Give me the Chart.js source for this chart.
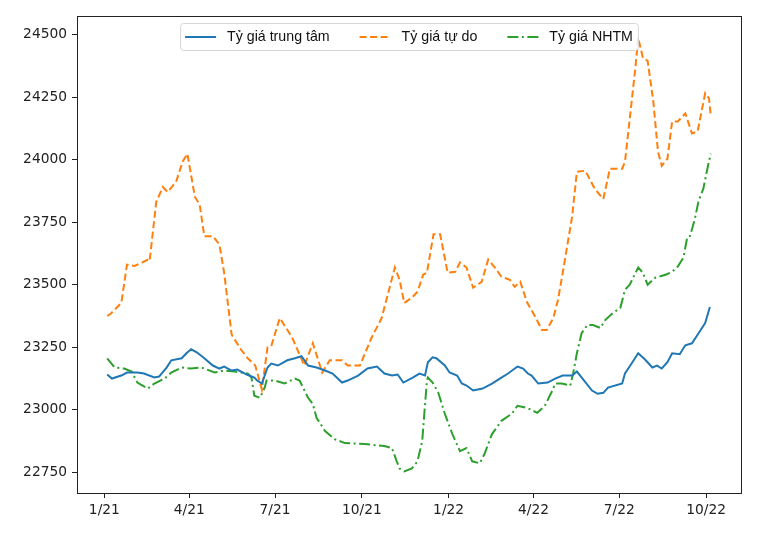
<!DOCTYPE html>
<html lang="vi">

<head>
    <meta charset="UTF-8">
    <title>Tỷ giá USD/VND</title>
    <script src="https://cdn.jsdelivr.net/npm/chart.js"></script>
    <style>
        body { margin: 0; background: #fff; }
    </style>
</head>

<body>
    <canvas id="chartTyGia" width="776" height="542"></canvas>

    <script>
        // x = so ngay tinh tu 1/1/2021
        const seriesNames = ['Tỷ giá trung tâm', 'Tỷ giá tự do', 'Tỷ giá NHTM'];

        const ngayTrungTam = [3, 8, 18, 24, 35, 42, 53, 58, 66, 71, 82, 87, 92, 98, 106, 115, 122, 127, 135, 141,
            151, 159, 162, 167, 173, 177, 184, 194, 202, 209, 216, 225, 234, 242, 252, 258, 269, 279, 289, 297,
            305, 311, 317, 327, 334, 340, 343, 348, 352, 361, 366, 374, 379, 384, 391, 401, 411, 421, 428, 438,
            444, 449, 453, 460, 470, 478, 486, 496, 501, 507, 517, 523, 529, 534, 549, 552, 559, 566, 573, 581,
            586, 591, 597, 602, 610, 616, 623, 630, 637, 642];
        const tyGiaTrungTam = [23141, 23125, 23137, 23149, 23149, 23145, 23129, 23133, 23169, 23198, 23206, 23226, 23242, 23230, 23206, 23177, 23165, 23173, 23157, 23161,
            23141, 23129, 23117, 23105, 23169, 23185, 23177, 23198, 23206, 23214, 23177, 23169, 23157, 23145, 23109, 23117, 23137, 23165, 23173, 23145,
            23137, 23141, 23109, 23129, 23145, 23137, 23190, 23210, 23206, 23177, 23149, 23137, 23105, 23097, 23077, 23085, 23105, 23129, 23145, 23173,
            23165, 23145, 23137, 23105, 23109, 23125, 23137, 23137, 23153, 23125, 23077, 23064, 23068, 23089, 23105, 23145, 23185, 23226, 23202, 23169,
            23177, 23165, 23190, 23226, 23222, 23258, 23266, 23306, 23347, 23411];

        const ngayTuDo = [3, 7, 18, 24, 32, 46, 48, 55, 62, 67, 76, 83, 88, 96, 101, 106, 115, 122, 127, 135,
            145, 152, 160, 167, 173, 177, 186, 199, 205, 212, 221, 231, 239, 252, 258, 271, 283, 294, 308, 313,
            318, 326, 332, 338, 342, 349, 356, 364, 372, 377, 384, 391, 400, 407, 414, 421, 430, 435, 441, 448,
            457, 464, 469, 476, 481, 486, 496, 501, 510, 520, 529, 536, 549, 552, 563, 566, 571, 576, 582, 587,
            591, 597, 602, 608, 616, 623, 629, 637, 641, 643];
        const tyGiaTuDo = [23375, 23385, 23427, 23580, 23575, 23600, 23595, 23831, 23891, 23871, 23911, 23992, 24024, 23851, 23822, 23694, 23694, 23661, 23548, 23300,
            23240, 23206, 23177, 23081, 23250, 23255, 23367, 23290, 23238, 23177, 23266, 23149, 23198, 23198, 23177, 23177, 23286, 23367, 23569, 23520,
            23427, 23448, 23472, 23540, 23548, 23702, 23702, 23548, 23552, 23589, 23569, 23488, 23512, 23601, 23569, 23532, 23520, 23492, 23512, 23431,
            23371, 23319, 23319, 23367, 23440, 23548, 23774, 23952, 23956, 23883, 23843, 23964, 23964, 23992, 24367, 24488, 24407, 24395, 24234, 24032,
            23976, 24004, 24153, 24153, 24185, 24105, 24113, 24266, 24246, 24177];

        const ngayNHTM = [3, 11, 21, 29, 35, 46, 53, 64, 71, 82, 92, 103, 117, 127, 138, 152, 156, 159, 165, 170,
            172, 181, 191, 202, 207, 216, 221, 225, 234, 244, 255, 276, 297, 305, 310, 313, 318, 326, 332, 337,
            342, 343, 348, 354, 361, 369, 377, 384, 390, 398, 403, 411, 421, 432, 438, 448, 459, 467, 475, 478,
            485, 494, 497, 501, 506, 512, 518, 526, 531, 539, 547, 552, 557, 566, 571, 576, 584, 595, 602, 608,
            614, 618, 621, 626, 630, 635, 640, 643];
        const tyGiaNHTM = [23206, 23169, 23165, 23153, 23109, 23085, 23105, 23125, 23149, 23169, 23165, 23169, 23149, 23157, 23153, 23145, 23129, 23056, 23048, 23089,
            23117, 23117, 23105, 23125, 23117, 23048, 23024, 22968, 22915, 22883, 22867, 22863, 22855, 22847, 22794, 22765, 22754, 22766, 22794, 22875,
            23117, 23129, 23109, 23069, 22984, 22903, 22835, 22847, 22794, 22786, 22823, 22903, 22956, 22984, 23016, 23008, 22988, 23016, 23077, 23105,
            23105, 23097, 23145, 23226, 23306, 23339, 23339, 23327, 23359, 23387, 23407, 23480, 23500, 23569, 23548, 23500, 23528, 23540, 23552, 23573,
            23609, 23690, 23695, 23762, 23835, 23883, 23976, 24024];

        const xTickDays = [0, 90, 181, 273, 365, 455, 546, 638];
        const xTickLabels = ['1/21', '4/21', '7/21', '10/21', '1/22', '4/22', '7/22', '10/22'];
        const yTicks = [22750, 23000, 23250, 23500, 23750, 24000, 24250, 24500];

        function toPoints(days, values) {
            return days.map((d, i) => ({ x: d, y: values[i] }));
        }

        // matplotlib style margins (5%)
        const allDays = ngayTrungTam.concat(ngayTuDo, ngayNHTM);
        const allVals = tyGiaTrungTam.concat(tyGiaTuDo, tyGiaNHTM);
        const xMin = Math.min(...allDays), xMax = Math.max(...allDays);
        const yMin = Math.min(...allVals), yMax = Math.max(...allVals);
        const xPad = (xMax - xMin) * 0.05, yPad = (yMax - yMin) * 0.05;

        const khungPlugin = {
            id: 'khung',
            afterDatasetsDraw(chart) {
                const a = chart.chartArea;
                const ctx = chart.ctx;
                ctx.save();
                ctx.strokeStyle = '#222';
                ctx.lineWidth = 1;
                ctx.strokeRect(Math.round(a.left) + 0.5, Math.round(a.top) + 0.5,
                    Math.round(a.right - a.left), Math.round(a.bottom - a.top));
                ctx.restore();
            }
        };

        const chuGiaiPlugin = {
            id: 'chuGiai',
            afterDraw(chart) {
                const ctx = chart.ctx;
                const a = chart.chartArea;
                const ds = chart.data.datasets;
                ctx.save();
                ctx.font = '14.2px "Liberation Sans", Arial, sans-serif';
                const handle = 31, gap = 11, colGap = 30, pad = 5;
                const widths = ds.map(d => ctx.measureText(d.label).width);
                let total = pad * 2 + widths.reduce((s, w) => s + handle + gap + w, 0) + colGap * (ds.length - 1);
                const left = (a.left + a.right) / 2 - total / 2;
                const top = a.top + 7, h = 27;

                ctx.beginPath();
                ctx.roundRect(left + 0.5, top + 0.5, total, h, 3);
                ctx.fillStyle = 'rgba(255,255,255,0.8)';
                ctx.fill();
                ctx.strokeStyle = '#d6d6d6';
                ctx.lineWidth = 1;
                ctx.stroke();

                let x = left + pad;
                const yMid = top + h / 2 + 0.5;
                ds.forEach((d, i) => {
                    ctx.beginPath();
                    ctx.setLineDash(d.borderDash || []);
                    ctx.strokeStyle = d.borderColor;
                    ctx.lineWidth = d.borderWidth;
                    ctx.moveTo(x, yMid);
                    ctx.lineTo(x + handle, yMid);
                    ctx.stroke();
                    ctx.setLineDash([]);
                    ctx.fillStyle = '#111';
                    ctx.textBaseline = 'middle';
                    ctx.fillText(d.label, x + handle + gap, yMid);
                    x += handle + gap + widths[i] + colGap;
                });
                ctx.restore();
            }
        };

        Chart.defaults.font.family = '"DejaVu Sans", sans-serif';
        Chart.defaults.font.size = 13.8;
        Chart.defaults.color = '#222';

        const ctx = document.getElementById('chartTyGia').getContext('2d');
        new Chart(ctx, {
            type: 'line',
            data: {
                datasets: [{
                    label: seriesNames[0],
                    data: toPoints(ngayTrungTam, tyGiaTrungTam),
                    borderColor: '#1f77b4',
                    borderWidth: 2
                }, {
                    label: seriesNames[1],
                    data: toPoints(ngayTuDo, tyGiaTuDo),
                    borderColor: '#ff7f0e',
                    borderWidth: 2,
                    borderDash: [7, 3.5]
                }, {
                    label: seriesNames[2],
                    data: toPoints(ngayNHTM, tyGiaNHTM),
                    borderColor: '#2ca02c',
                    borderWidth: 2,
                    borderDash: [11, 3.5, 2, 3.5]
                }]
            },
            options: {
                responsive: false,
                animation: false,
                elements: { point: { radius: 0 }, line: { tension: 0, fill: false } },
                layout: { padding: { top: 16, right: 35, bottom: 0, left: 0 } },
                plugins: {
                    legend: { display: false },
                    tooltip: { enabled: false }
                },
                scales: {
                    x: {
                        type: 'linear',
                        min: xMin - xPad,
                        max: xMax + xPad,
                        afterBuildTicks: s => { s.ticks = xTickDays.map(v => ({ value: v })); },
                        afterFit: s => { s.height = 49; },
                        grid: { drawOnChartArea: false, drawTicks: true, tickLength: 5, color: '#222' },
                        border: { display: false },
                        ticks: {
                            autoSkip: false,
                            maxRotation: 0,
                            padding: 4,
                            callback: (v, i) => xTickLabels[i]
                        }
                    },
                    y: {
                        type: 'linear',
                        min: yMin - yPad,
                        max: yMax + yPad,
                        afterBuildTicks: s => { s.ticks = yTicks.map(v => ({ value: v })); },
                        afterFit: s => { s.width = 77; },
                        grid: { drawOnChartArea: false, drawTicks: true, tickLength: 5, color: '#222' },
                        border: { display: false },
                        ticks: {
                            autoSkip: false,
                            padding: 5,
                            callback: v => String(v)
                        }
                    }
                }
            },
            plugins: [khungPlugin, chuGiaiPlugin]
        });
    </script>
</body>

</html>
